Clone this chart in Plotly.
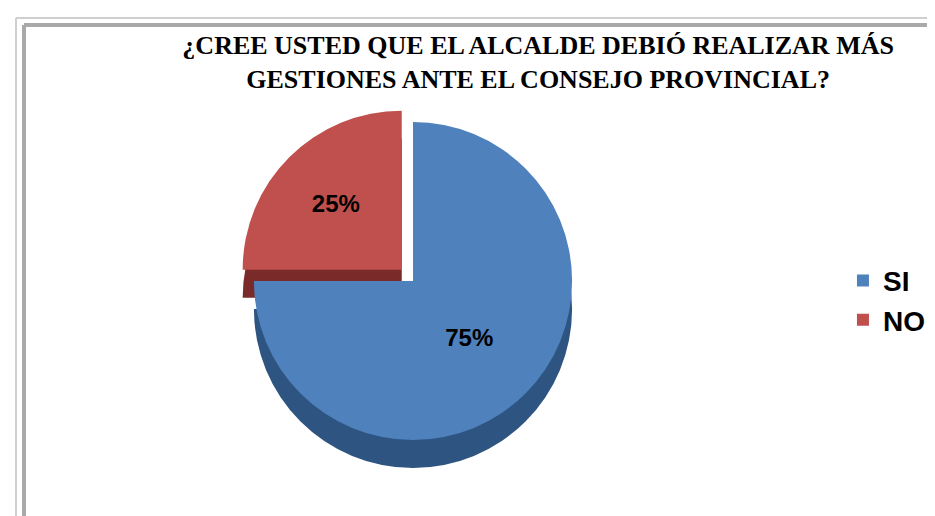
import plotly.graph_objects as go

# ---- data ----
labels = ["SI", "NO"]
values = [75, 25]
title_lines = ["¿CREE USTED QUE EL ALCALDE DEBIÓ REALIZAR MÁS",
               "GESTIONES ANTE EL CONSEJO PROVINCIAL?"]

top_colors = ["#4F81BD", "#C0504D"]
side_colors = ["#2E5481", "#7A2B29"]
pulls = [0, 0.1]

W, H = 935, 516

def px_dom(x0, x1, y0, y1):
    return dict(x=[x0 / W, x1 / W], y=[1 - y1 / H, 1 - y0 / H])

fig = go.Figure()

# side (depth) of the pie, slightly lower
fig.add_trace(go.Pie(
    labels=labels, values=values, sort=False, direction="clockwise", rotation=0,
    pull=pulls, marker=dict(colors=side_colors, line=dict(width=0)),
    textinfo="none", hoverinfo="skip", showlegend=False,
    domain=px_dom(230, 580, 126, 476),
))
# top face
fig.add_trace(go.Pie(
    labels=labels, values=values, sort=False, direction="clockwise", rotation=0,
    pull=pulls, marker=dict(colors=top_colors, line=dict(width=0)),
    textinfo="percent", texttemplate="<b>%{percent:.0%}</b>",
    textposition="inside", insidetextorientation="horizontal",
    textfont=dict(family="Liberation Sans, Arial, sans-serif", size=24, color="black"),
    domain=px_dom(230, 580, 98, 448),
))

fig.update_layout(
    width=W, height=H,
    margin=dict(l=0, r=0, t=0, b=0),
    paper_bgcolor="white",
    title=dict(
        text="<b>" + "<br>".join(title_lines) + "</b>",
        x=0.567, xanchor="center", y=0.91, yanchor="top",
        font=dict(family="Liberation Serif, Times New Roman, serif", size=26, color="black"),
    ),
    legend=dict(
        x=0.893, y=0.52, xanchor="left", yanchor="top",
        font=dict(family="Liberation Sans, Arial, sans-serif", size=28, color="black", weight="bold"),
        bgcolor="rgba(0,0,0,0)",
    ),
    shapes=[
        dict(type="line", xref="paper", yref="paper",
             x0=8 / W, x1=1, y0=1 - 10 / H, y1=1 - 10 / H,
             line=dict(color="#CFCFCF", width=2)),
        dict(type="line", xref="paper", yref="paper",
             x0=8 / W, x1=8 / W, y0=0, y1=1 - 10 / H,
             line=dict(color="#CFCFCF", width=2)),
        dict(type="line", xref="paper", yref="paper",
             x0=16 / W, x1=1, y0=1 - 17 / H, y1=1 - 17 / H,
             line=dict(color="#A9A9A9", width=4)),
        dict(type="line", xref="paper", yref="paper",
             x0=16 / W, x1=16 / W, y0=0, y1=1 - 17 / H,
             line=dict(color="#A9A9A9", width=4)),
    ],
)

fig.write_html("out.html", config={"displayModeBar": False})
